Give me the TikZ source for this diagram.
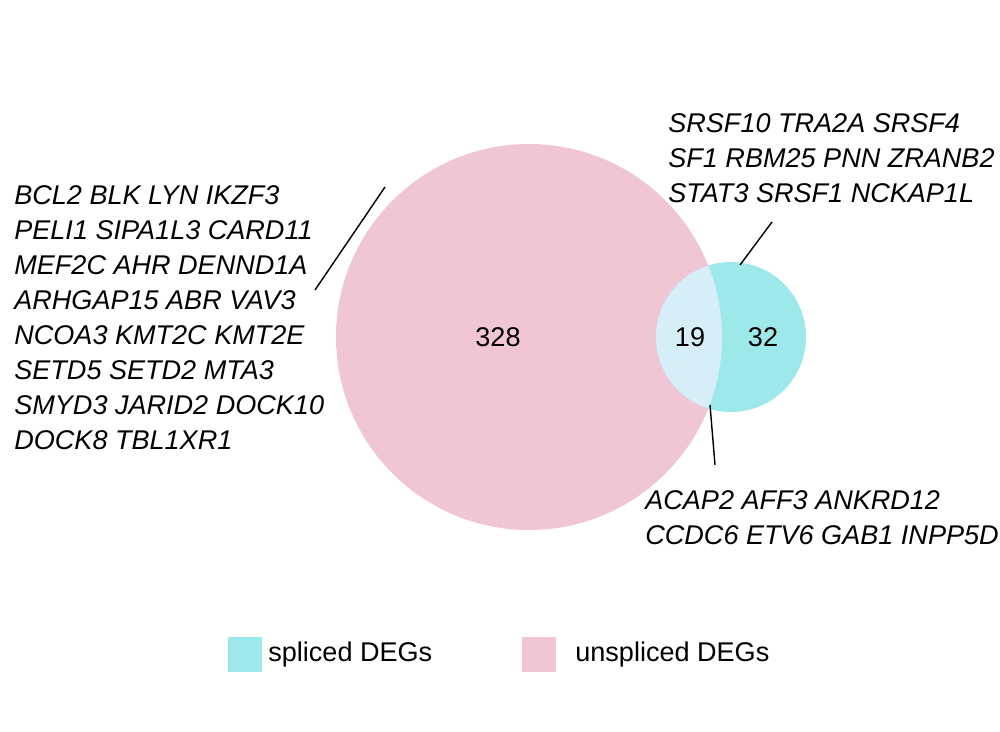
\documentclass[tikz,border=0pt]{standalone}
\usepackage{fontspec}
\setmainfont{Liberation Sans}
\definecolor{unspl}{HTML}{F0C6D4}
\definecolor{spl}{HTML}{9DE8EA}
\definecolor{both}{HTML}{D6EEF8}
\begin{document}
\begin{tikzpicture}[x=0.02cm,y=-0.02cm]
\tikzset{genes/.style={font=\fontsize{15.4}{19.9}\selectfont\itshape,align=left,inner sep=0pt},
  num/.style={font=\fontsize{15.4}{18}\selectfont},
  key/.style={font=\fontsize{15.4}{18}\selectfont,anchor=west,inner sep=0pt}}
\useasboundingbox (0,0) rectangle (1000,731);
% circles
\fill [unspl] (529,337) circle (193);
\fill [spl] (731,337) circle (75);
\begin{scope}
\clip (731,337) circle (75);
\fill [both] (529,337) circle (193);
\end{scope}
\node [num] (n328) at (498,337) {328};
\node [num] (n19) at (690,337) {19};
\node [num] (n32) at (763,337) {32};
% gene lists
\node [genes,anchor=north west] (left) at (14,185) {BCL2 BLK LYN IKZF3\\PELI1 SIPA1L3 CARD11\\MEF2C AHR DENND1A\\ARHGAP15 ABR VAV3\\NCOA3 KMT2C KMT2E\\SETD5 SETD2 MTA3\\SMYD3 JARID2 DOCK10\\DOCK8 TBL1XR1};
\node [genes,anchor=north west] (top) at (668,113) {SRSF10 TRA2A SRSF4\\SF1 RBM25 PNN ZRANB2\\STAT3 SRSF1 NCKAP1L};
\node [genes,anchor=north west] (bot) at (645,490) {ACAP2 AFF3 ANKRD12\\CCDC6 ETV6 GAB1 INPP5D};
\coordinate (pl) at (385,187);
\coordinate (pt) at (740,265);
\coordinate (pb) at (710,405);
\draw [line width=0.8pt] (315,290) -- (pl);
\draw [line width=0.8pt] (772,222) -- (pt);
\draw [line width=0.8pt] (715,465) -- (pb);
% legend
\fill [spl] (228,637) rectangle (262,672);
\node [key] (ks) at (268,654) {spliced DEGs};
\fill [unspl] (522,637) rectangle (556,672);
\node [key] (ku) at (575,654) {unspliced DEGs};
\end{tikzpicture}
\end{document}
